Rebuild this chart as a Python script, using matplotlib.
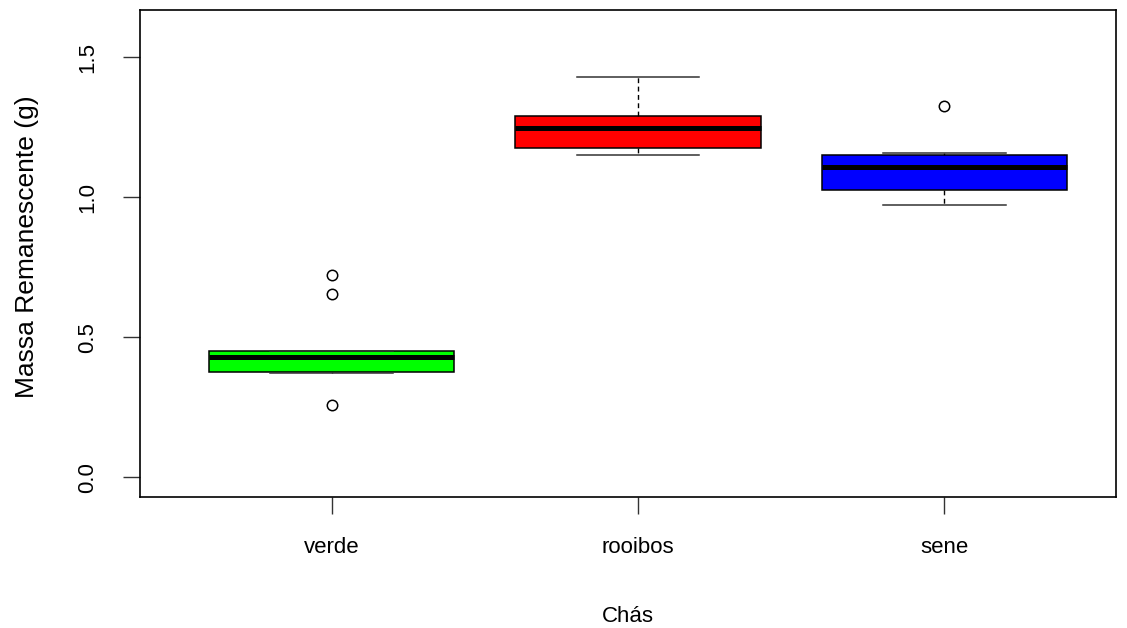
import matplotlib
matplotlib.use("Agg")
import matplotlib.pyplot as plt

plt.rcParams['font.family'] = ['Liberation Sans', 'DejaVu Sans']

# dados
chas = ["verde", "rooibos", "sene"]
cores = ["#00FF00", "#FF0000", "#0000FF"]
q1 = [0.375, 1.175, 1.025]
med = [0.428, 1.246, 1.107]
q3 = [0.450, 1.289, 1.150]
wlo = [0.371, 1.150, 0.970]
whi = [0.450, 1.429, 1.156]
outliers = [[0.721, 0.654, 0.257], [], [1.326]]

stats = []
for i in range(len(chas)):
    stats.append({"label": chas[i], "q1": q1[i], "med": med[i], "q3": q3[i],
                  "whislo": wlo[i], "whishi": whi[i], "fliers": outliers[i]})

fig = plt.figure(figsize=(11.27, 6.28), dpi=100)
ax = fig.add_axes([140/1127, 1-497/628, (1116-140)/1127, (497-10)/628])

bp = ax.bxp(stats, positions=[1, 2, 3], widths=0.8, patch_artist=True,
            showfliers=True,
            boxprops=dict(edgecolor="black", linewidth=1.1),
            medianprops=dict(color="black", linewidth=3.6),
            whiskerprops=dict(color="black", linestyle=(0, (3.5, 2.5)), linewidth=1),
            capprops=dict(color="#333333", linewidth=1.1),
            flierprops=dict(marker="o", markerfacecolor="none",
                            markeredgecolor="black", markersize=7.5, markeredgewidth=1.1))
for patch, c in zip(bp["boxes"], cores):
    patch.set_facecolor(c)
for cap in bp["caps"]:
    x = cap.get_xdata()
    m = (x[0] + x[1]) / 2
    cap.set_xdata([m - 0.2, m + 0.2])

ax.set_xlim(0.375, 3.56)
ax.set_ylim(-0.071, 1.668)
ax.set_yticks([0.0, 0.5, 1.0, 1.5])
ax.set_yticklabels(["0.0", "0.5", "1.0", "1.5"], rotation=90, va="center")
ax.tick_params(axis="both", labelsize=16, length=12, width=1, color="#333333")
ax.tick_params(axis="x", pad=17)
ax.tick_params(axis="y", pad=18)
for s in ax.spines.values():
    s.set_linewidth(1.2)

ax.set_xlabel("Chás", fontsize=16, labelpad=34)
ax.set_ylabel("Massa Remanescente (g)", fontsize=19)
ax.yaxis.set_label_coords(-0.103, 0.515)

fig.savefig("out.png", dpi=100)
